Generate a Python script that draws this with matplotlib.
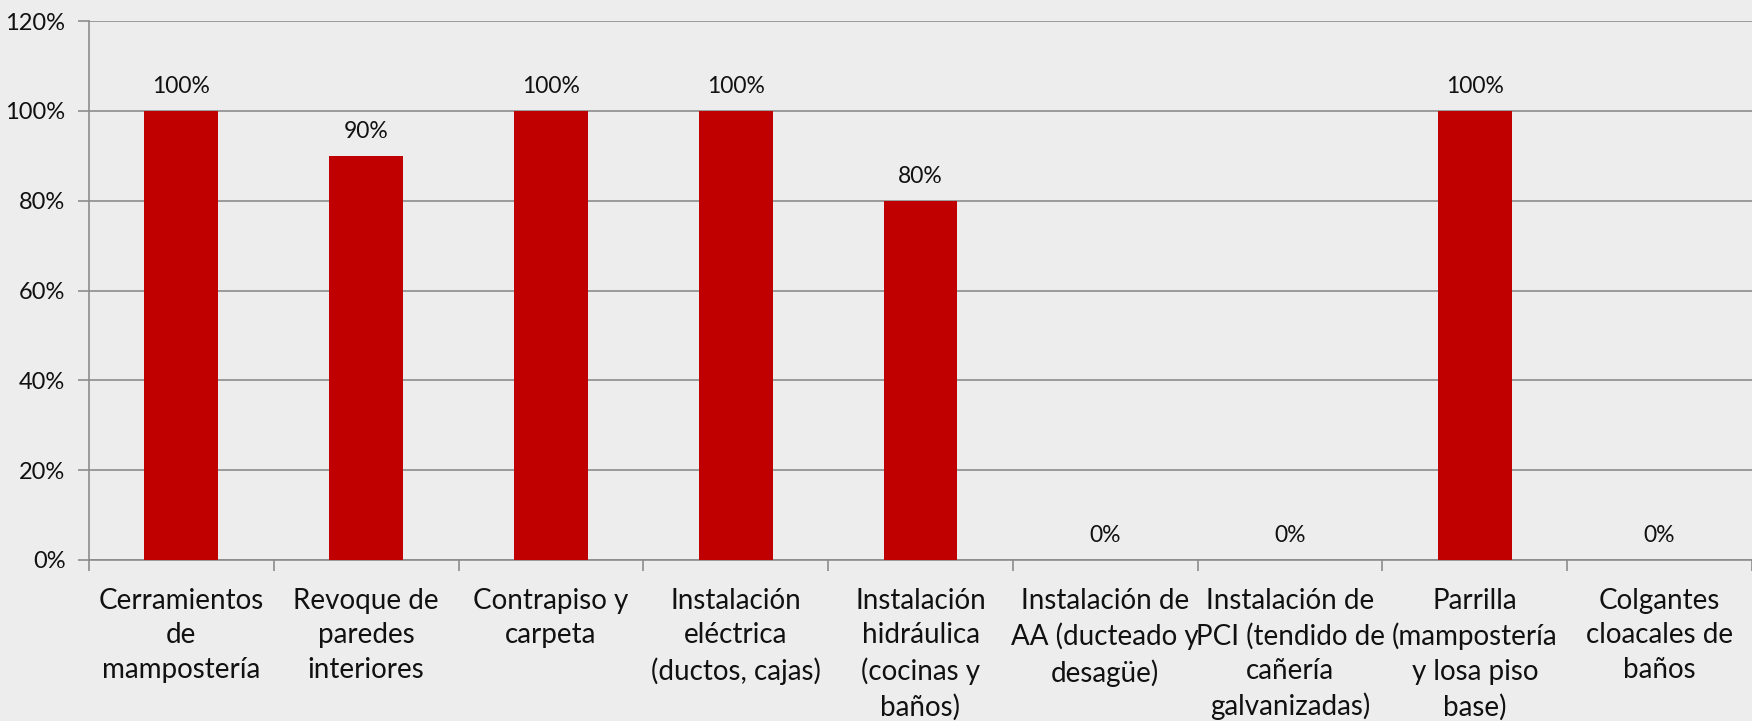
import numpy as np
import matplotlib.pyplot as plt
from matplotlib.ticker import FuncFormatter

categorias = [
    "Cerramientos\nde\nmampostería",
    "Revoque de\nparedes\ninteriores",
    "Contrapiso y\ncarpeta",
    "Instalación\neléctrica\n(ductos, cajas)",
    "Instalación\nhidráulica\n(cocinas y\nbaños)",
    "Instalación de\nAA (ducteado y\ndesagüe)",
    "Instalación de\nPCI (tendido de\ncañería\ngalvanizadas)",
    "Parrilla\n(mampostería\ny losa piso\nbase)",
    "Colgantes\ncloacales de\nbaños",
]
avance = [1.00, 0.90, 1.00, 1.00, 0.80, 0.00, 0.00, 1.00, 0.00]
yticks = [0, 0.2, 0.4, 0.6, 0.8, 1.0, 1.2]

plt.rcParams['font.family'] = ['Lato', 'DejaVu Sans']
bg = '#ededed'
gris = '#8c8c8c'

fig = plt.figure(figsize=(17.52, 7.21), dpi=100, facecolor=bg)
ax = fig.add_axes([89/1752, 1 - 560/721, 1 - 89/1752, (560 - 21)/721])
ax.set_facecolor(bg)

x = np.arange(len(categorias))
ax.bar(x, avance, width=0.4, color='#c00000', zorder=3)

for xi, v in zip(x, avance):
    ax.annotate(f"{v:.0%}", (xi, v), xytext=(0, 24), textcoords='offset pixels',
                ha='center', va='center', fontsize=16.5, color='#111111')

ax.set_xlim(-0.5, len(categorias) - 0.5)
ax.set_ylim(0, 1.2)
ax.set_yticks(yticks)
ax.yaxis.set_major_formatter(FuncFormatter(lambda v, p: f"{v:.0%}"))
ax.grid(axis='y', color=gris, linewidth=1.2, zorder=0)

ax.set_xticks(x)
ax.set_xticklabels(categorias, fontsize=20, linespacing=1.4, color='#111111')
ax.set_xticks(np.arange(-0.5, len(categorias)), minor=True)
ax.tick_params(axis='x', which='major', length=0, pad=20)
ax.tick_params(axis='x', which='minor', length=8, color=gris, width=1.2)
ax.tick_params(axis='y', length=8, color=gris, width=1.2, labelsize=17,
               labelcolor='#111111', pad=9)

for s in ['top', 'right']:
    ax.spines[s].set_visible(False)
for s in ['left', 'bottom']:
    ax.spines[s].set_color(gris)
    ax.spines[s].set_linewidth(1.2)

fig.savefig('out.png', dpi=100, facecolor=bg)
